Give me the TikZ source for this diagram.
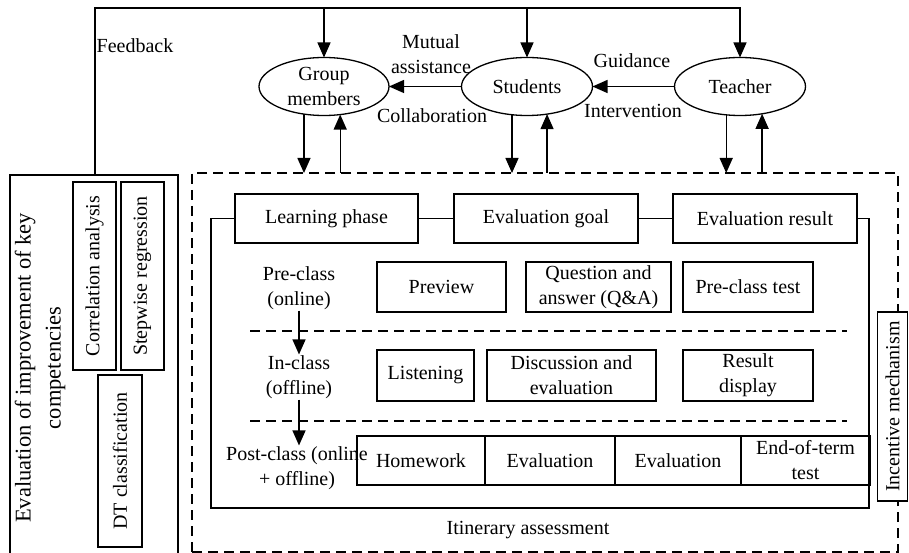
\documentclass[tikz,border=0pt]{standalone}
\usepackage{fontspec}
\setmainfont{Liberation Serif}
\usetikzlibrary{arrows.meta,shapes.geometric}
\begin{document}
\begin{tikzpicture}[x=1pt,y=-1pt, line width=1.3pt,
  every node/.style={font=\fontsize{20}{25}\selectfont, inner sep=1pt, outer sep=0pt},
  box/.style={draw, rectangle, align=center},
  hbox/.style={box, minimum height=49pt},
  rbox/.style={box, minimum height=50pt},
  ell/.style={draw, ellipse, minimum width=131pt, minimum height=58pt, inner sep=0pt, align=center},
  arr/.style={-{Triangle[length=15pt,width=13pt]}},
  dashln/.style={dash pattern=on 10pt off 6pt}]
\useasboundingbox (0,0) rectangle (909,553);
\clip (0,0) rectangle (909,553);

% actors
\node[ell, minimum width=130pt] (gm) at (324,86.5) {Group\\members};
\node[ell] (st) at (527,86.5) {Students};
\node[ell] (te) at (740,86.5) {Teacher};

\node[align=center] (ma) at (431,54) {Mutual\\assistance};
\node (col) at (432,116) {Collaboration};
\node (gd) at (632,61) {Guidance};
\node (iv) at (633,111) {Intervention};

\draw[arr] (st.west) -- (gm.east);
\draw[arr] (te.west) -- (st.east);

% left evaluation box
\node[draw, anchor=north west, minimum width=168pt, minimum height=400pt] (ev) at (10,175) {};
\node[rotate=90, align=center, font=\fontsize{22.5}{30}\selectfont] (evt) at (40,368) {Evaluation of improvement of key\\competencies};
\node[box, rotate=90, minimum width=188pt, minimum height=43pt] (ca) at (94.5,276) {Correlation analysis};
\node[box, rotate=90, minimum width=188pt, minimum height=43pt] (sr) at (142.5,276) {Stepwise regression};
\node[box, rotate=90, minimum width=172pt, minimum height=44pt] (dt) at (120,461) {DT classification};

% feedback loop
\coordinate (fb) at (95,8);
\node (fbl) at (135,46) {Feedback};
\draw[arr] (fb |- ev.north) -- (fb) -| (te.north);
\draw[arr] (gm.north |- fb) -- (gm.north);
\draw[arr] (st.north |- fb) -- (st.north);

% outer dashed box
\node[draw, dashln, anchor=north west, minimum width=706pt, minimum height=379pt] (outer) at (192,173) {};

\draw[arr] (gm.234) -- (gm.234 |- outer.north);
\draw[arr] (gm.300 |- outer.north) -- (gm.300);
\draw[arr] (st.242) -- (st.242 |- outer.north);
\draw[arr] (st.306 |- outer.north) -- (st.306);
\draw[arr] (te.244) -- (te.244 |- outer.north);
\draw[arr] (te.309 |- outer.north) -- (te.309);

% header
\node[hbox, minimum width=183pt] (lp) at (326.5,218.5) {Learning phase};
\node[hbox, minimum width=184pt] (eg) at (546,218.5) {Evaluation goal};
\node[hbox, minimum width=184pt] (er) at (765,218.5) {Evaluation result};
\draw (lp.east) -- (eg.west);
\draw (eg.east) -- (er.west);
\coordinate (fl) at (211,508);
\coordinate (fr) at (869,508);
\draw (lp.west) -| (fl) -- (fr) |- (er.east);

% phases
\node[align=center] (pre) at (299,288) {Pre-class\\(online)};
\node[align=center] (inc) at (299,377) {In-class\\(offline)};
\node[align=center] (post) at (297,468) {Post-class (online\\+ offline)};
\draw[arr] (pre.south) -- (inc.north);
\draw[arr] (inc.south) -- (inc.south |- post.north);

\draw[dashln] (250,331) -- (847,331);
\draw[dashln] (250,421) -- (847,421);

% row 1
\node[rbox, minimum width=129pt] (pv) at (441.5,287) {Preview};
\node[rbox, minimum width=145pt] (qa) at (598.5,287) {Question and\\answer (Q\&A)};
\node[rbox, minimum width=130pt] (pt) at (748,287) {Pre-class test};
% row 2
\node[rbox, minimum width=97pt, minimum height=51pt] (ls) at (425.5,375.5) {Listening};
\node[rbox, minimum width=169pt, minimum height=51pt] (de) at (571.5,375.5) {Discussion and\\evaluation};
\node[rbox, minimum width=130pt, minimum height=51pt] (rd) at (748,375.5) {Result\\display};
% row 3
\node[hbox, minimum width=128pt] (hw) at (421,460.5) {Homework};
\node[hbox, minimum width=130pt] (ev1) at (550,460.5) {Evaluation};
\node[hbox, minimum width=126pt] (ev2) at (678,460.5) {Evaluation};
\node[hbox, minimum width=129pt] (et) at (805.5,460.5) {End-of-term\\test};

\node (ia) at (528,530) {Itinerary assessment};

% incentive
\node[box, rotate=90, fill=white, minimum width=189pt, minimum height=30pt] (im) at (892.5,406.5) {Incentive mechanism};
\end{tikzpicture}
\end{document}
